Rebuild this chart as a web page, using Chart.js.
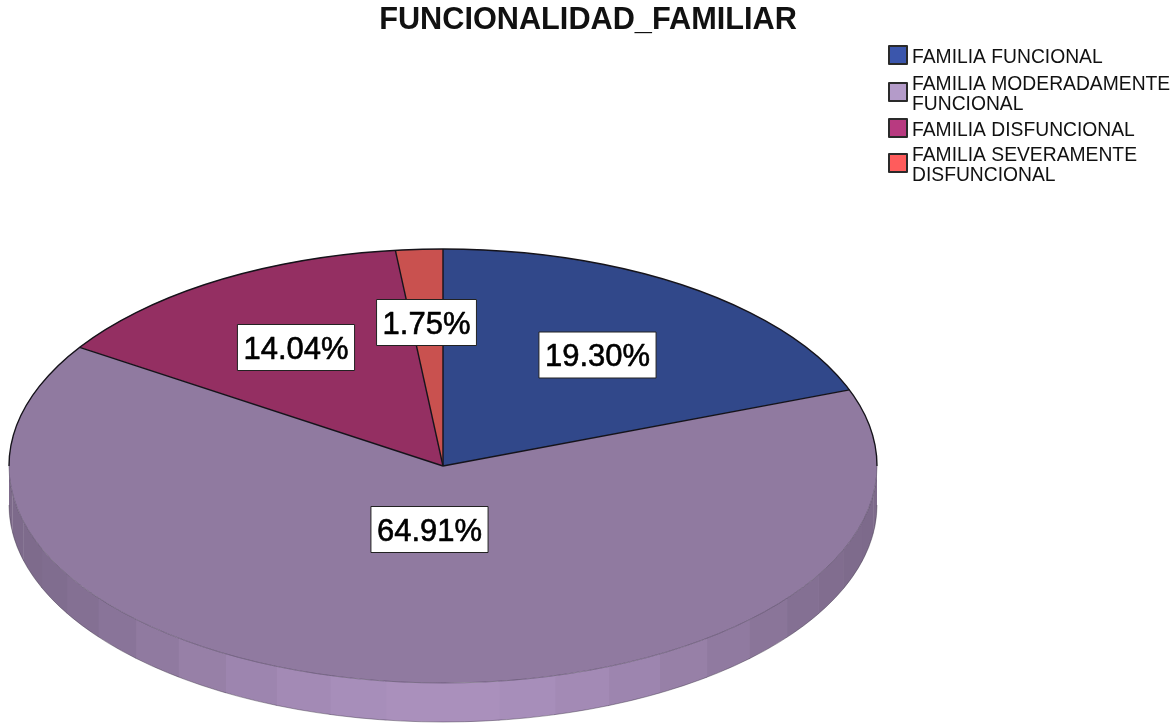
<!DOCTYPE html>
<html>
<head>
<meta charset="utf-8">
<title>FUNCIONALIDAD_FAMILIAR</title>
<script src="https://cdn.jsdelivr.net/npm/chart.js@4"></script>
<style>
  html, body { margin: 0; padding: 0; background: #fff; overflow: hidden; }
  /* la captura original esta reescalada y se ve un poco borrosa */
  #grafico { display: block; filter: blur(0.45px); }
</style>
</head>
<body>
<canvas id="grafico" width="1172" height="723"></canvas>
<script>
const titulo = 'FUNCIONALIDAD_FAMILIAR';
const categorias = [
  ['FAMILIA FUNCIONAL'],
  ['FAMILIA MODERADAMENTE', 'FUNCIONAL'],
  ['FAMILIA DISFUNCIONAL'],
  ['FAMILIA SEVERAMENTE', 'DISFUNCIONAL']
];
const porcentajes = [19.30, 64.91, 14.04, 1.75];
const coloresCara = ['#31488a', '#907aa0', '#942f62', '#c9514f'];
const coloresLeyenda = ['#3b56ac', '#b49bc9', '#b83a80', '#ff5c5c'];

// geometria del pastel 3D (el pie plano se aplasta con el contexto)
const centroX = 443;
const centroY = 466;
const radio = 434;
const aplastado = 0.5;
const grosor = 39;
const pasoFaceta = Math.PI / 24;

// donde caen las etiquetas respecto al centro del pastel
const desfaseEtiquetas = [[154.5, -111], [-13.5, 63.5], [-147, -118.5], [-16.5, -143.5]];
const leyendaY = [55, 92, 128, 163];

function sombrear(hex, f) {
  const n = parseInt(hex.slice(1), 16);
  const c = [n >> 16, (n >> 8) & 255, n & 255].map(v => Math.min(255, Math.round(v * f)));
  return `rgb(${c[0]},${c[1]},${c[2]})`;
}

function dibujarLados(ctx, arcos) {
  const ry = radio * aplastado;
  arcos.forEach((arco, i) => {
    const ini = Math.max(arco.startAngle, 0);
    const fin = Math.min(arco.endAngle, Math.PI);
    if (fin <= ini) return;
    for (let a = Math.floor(ini / pasoFaceta) * pasoFaceta; a < fin; a += pasoFaceta) {
      const a0 = Math.max(a, ini);
      const a1 = Math.min(a + pasoFaceta + 0.003, fin);
      const t = Math.pow(Math.sin((a0 + a1) / 2), 3);
      ctx.beginPath();
      ctx.ellipse(centroX, centroY, radio, ry, 0, a0, a1);
      ctx.ellipse(centroX, centroY + grosor, radio, ry, 0, a1, a0, true);
      ctx.closePath();
      ctx.fillStyle = sombrear(coloresCara[i], 0.865 + 0.315 * t);
      ctx.fill();
    }
  });
  // borde inferior fino
  ctx.beginPath();
  ctx.ellipse(centroX, centroY + grosor, radio, ry, 0, 0, Math.PI);
  ctx.strokeStyle = 'rgba(60,50,70,0.55)';
  ctx.lineWidth = 0.8;
  ctx.stroke();
}

function dibujarBordes(ctx, arcos) {
  const ry = radio * aplastado;
  ctx.lineJoin = 'round';
  // lineas radiales
  ctx.strokeStyle = '#15131a';
  ctx.lineWidth = 1.4;
  arcos.forEach(arco => {
    ctx.beginPath();
    ctx.moveTo(centroX + radio * Math.cos(arco.startAngle), centroY + ry * Math.sin(arco.startAngle));
    ctx.lineTo(centroX, centroY);
    ctx.stroke();
  });
  // contorno de arriba negro, de frente casi no se nota
  ctx.beginPath();
  ctx.ellipse(centroX, centroY, radio, ry, 0, Math.PI, Math.PI * 2);
  ctx.stroke();
  ctx.beginPath();
  ctx.ellipse(centroX, centroY, radio, ry, 0, 0, Math.PI);
  ctx.strokeStyle = 'rgba(70,58,82,0.6)';
  ctx.lineWidth = 0.8;
  ctx.stroke();
}

function dibujarEtiquetas(ctx) {
  ctx.font = '31px "Liberation Sans"';
  ctx.textAlign = 'center';
  ctx.textBaseline = 'middle';
  porcentajes.forEach((valor, i) => {
    const texto = valor.toFixed(2) + '%';
    const x = centroX + desfaseEtiquetas[i][0];
    const y = centroY + desfaseEtiquetas[i][1];
    const ancho = ctx.measureText(texto).width + 12;
    ctx.fillStyle = '#fff';
    ctx.strokeStyle = '#222';
    ctx.lineWidth = 1;
    ctx.fillRect(x - ancho / 2, y - 23, ancho, 46);
    ctx.strokeRect(x - ancho / 2, y - 23, ancho, 46);
    ctx.fillStyle = '#000';
    ctx.strokeStyle = '#000';
    ctx.lineWidth = 0.6;
    ctx.fillText(texto, x, y + 2.5);
    ctx.strokeText(texto, x, y + 2.5);
  });
}

function dibujarLeyenda(ctx) {
  ctx.font = '19.3px "Liberation Sans"';
  ctx.textAlign = 'left';
  ctx.textBaseline = 'middle';
  categorias.forEach((lineas, i) => {
    const y = leyendaY[i];
    ctx.fillStyle = coloresLeyenda[i];
    ctx.strokeStyle = '#2a2a2a';
    ctx.lineWidth = 2;
    ctx.fillRect(889, y - 9, 18, 18);
    ctx.strokeRect(889, y - 9, 18, 18);
    ctx.fillStyle = '#111';
    lineas.forEach((linea, j) => {
      const yTexto = y + 2.5 + (j - (lineas.length - 1) / 2) * 20;
      ctx.fillText(linea, 912, yTexto);
    });
  });
}

const pastel3d = {
  id: 'pastel3d',
  beforeDatasetsDraw(chart) {
    const ctx = chart.ctx;
    const arcos = chart.getDatasetMeta(0).data;
    dibujarLados(ctx, arcos);
    ctx.save();
    ctx.translate(centroX, centroY);
    ctx.scale(1, aplastado);
    ctx.translate(-arcos[0].x, -arcos[0].y);
  },
  afterDatasetsDraw(chart) {
    const ctx = chart.ctx;
    ctx.restore();
    ctx.save();
    dibujarBordes(ctx, chart.getDatasetMeta(0).data);
    dibujarEtiquetas(ctx);
    dibujarLeyenda(ctx);
    ctx.restore();
  }
};

const grafico = new Chart(document.getElementById('grafico').getContext('2d'), {
  type: 'pie',
  data: {
    labels: categorias,
    datasets: [{
      data: porcentajes,
      backgroundColor: coloresCara,
      borderWidth: 0,
      clip: false
    }]
  },
  options: {
    responsive: false,
    animation: false,
    radius: radio,
    layout: { padding: { left: 4 } },
    plugins: {
      legend: { display: false },
      tooltip: { enabled: false },
      title: {
        display: true,
        text: titulo,
        color: '#111',
        font: { family: '"Liberation Sans"', size: 30.7, weight: 'bold' },
        padding: { top: 2, bottom: 10 }
      }
    }
  },
  plugins: [pastel3d]
});
</script>
</body>
</html>
